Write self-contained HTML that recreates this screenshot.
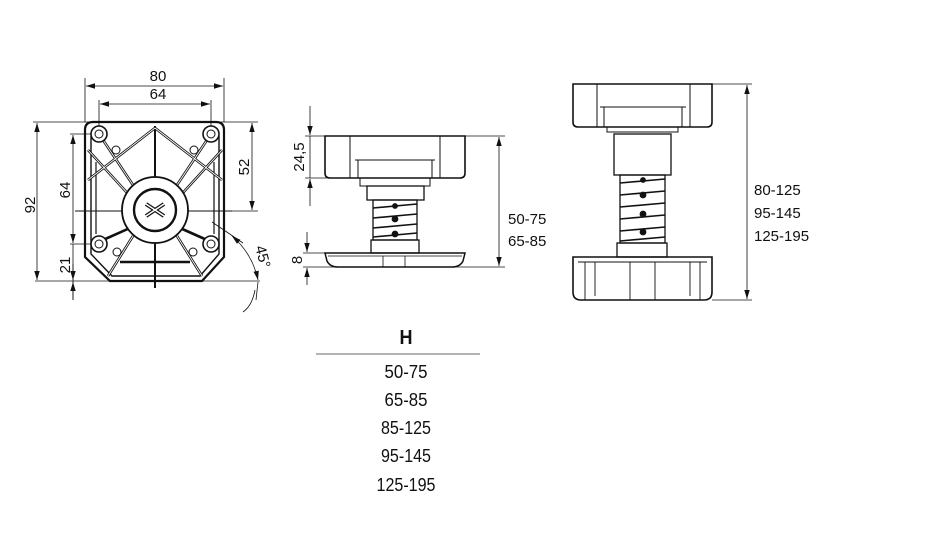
<!DOCTYPE html>
<html><head><meta charset="utf-8"><style>
html,body{margin:0;padding:0;background:#fff;}
svg{display:block;}
text{font-family:"Liberation Sans Narrow","Liberation Sans",sans-serif;fill:#111;}
</style></head><body>
<svg width="950" height="540" viewBox="0 0 950 540" xmlns="http://www.w3.org/2000/svg">
<defs>
<marker id="a" viewBox="0 0 10 10" refX="10" refY="5" markerWidth="9" markerHeight="9" orient="auto-start-reverse" markerUnits="userSpaceOnUse"><path d="M0,2 L10,5 L0,8 z" fill="#111"/></marker>
</defs>
<g stroke="#111" fill="none" stroke-width="0.8">
<line x1="85" y1="78" x2="85" y2="122"/><line x1="224" y1="78" x2="224" y2="122"/>
<line x1="86" y1="86" x2="223" y2="86" marker-start="url(#a)" marker-end="url(#a)"/>
<line x1="99" y1="100" x2="99" y2="128"/><line x1="211" y1="100" x2="211" y2="128"/>
<line x1="100" y1="104" x2="210" y2="104" marker-start="url(#a)" marker-end="url(#a)"/>
<line x1="33" y1="122" x2="258" y2="122"/>
<line x1="35" y1="281" x2="260" y2="281"/>
<line x1="70" y1="134" x2="99" y2="134"/><line x1="70" y1="244" x2="99" y2="244"/>
<line x1="190" y1="211" x2="258" y2="211"/>
<line x1="37" y1="123" x2="37" y2="280" marker-start="url(#a)" marker-end="url(#a)"/>
<line x1="73" y1="135" x2="73" y2="243" marker-start="url(#a)" marker-end="url(#a)"/>
<line x1="73" y1="244" x2="73" y2="300"/>
<line x1="73" y1="264" x2="73" y2="280" marker-end="url(#a)"/>
<line x1="73" y1="300" x2="73" y2="282" marker-end="url(#a)"/>
<line x1="252" y1="123" x2="252" y2="210" marker-start="url(#a)" marker-end="url(#a)"/>
<line x1="212" y1="222" x2="243" y2="243"/>
<path d="M232,236 A 80 80 0 0 1 258 280" marker-start="url(#a)" marker-end="url(#a)"/>
<line x1="258" y1="282" x2="256" y2="300"/>
<path d="M255,290 Q 252 306 243 312" />
<path d="M85,130 Q85,122 93,122 L216,122 Q224,122 224,130 L224,257 L202,281 L110,281 L85,257 Z" stroke-width="2.2"/>
<path d="M91,136 L91,254 L112,276 L200,276 L219,254 L219,136" stroke-width="1.4"/>
<path d="M96,162 L96,234 M214,162 L214,234" stroke-width="1.2"/>
<line x1="155" y1="126" x2="155" y2="288" stroke-width="2"/>
<line x1="75" y1="211" x2="232" y2="211" stroke-width="1"/>
<g stroke-width="2.6">
<line x1="155" y1="128" x2="88" y2="180"/><line x1="155" y1="128" x2="222" y2="180"/>
<line x1="103" y1="140" x2="133" y2="185"/><line x1="207" y1="140" x2="177" y2="185"/>
<line x1="88" y1="150" x2="130" y2="196"/><line x1="222" y1="150" x2="180" y2="196"/>
<line x1="103" y1="240" x2="130" y2="228"/><line x1="207" y1="240" x2="180" y2="228"/>
<line x1="133" y1="236" x2="108" y2="276"/><line x1="177" y1="236" x2="202" y2="276"/>
<line x1="120" y1="262" x2="190" y2="262"/>
</g>
<g stroke="#fff" stroke-width="0.9">
<line x1="155" y1="128" x2="88" y2="180"/><line x1="155" y1="128" x2="222" y2="180"/>
<line x1="103" y1="140" x2="133" y2="185"/><line x1="207" y1="140" x2="177" y2="185"/>
<line x1="88" y1="150" x2="130" y2="196"/><line x1="222" y1="150" x2="180" y2="196"/>
<line x1="133" y1="236" x2="108" y2="276"/><line x1="177" y1="236" x2="202" y2="276"/>
</g>
<circle cx="155" cy="210" r="33" fill="#fff" stroke-width="1.8"/>
<circle cx="155" cy="210" r="21" stroke-width="2.4"/>
<path d="M146,204 L164,216 M164,204 L146,216" stroke-width="4"/>
<path d="M146,204 L164,216 M164,204 L146,216" stroke="#fff" stroke-width="1.5"/>
<g fill="#fff" stroke-width="1.6">
<circle cx="99" cy="134" r="8"/><circle cx="211" cy="134" r="8"/>
<circle cx="99" cy="244" r="8"/><circle cx="211" cy="244" r="8"/>
</g>
<g stroke-width="1">
<circle cx="99" cy="134" r="4"/><circle cx="211" cy="134" r="4"/>
<circle cx="99" cy="244" r="4"/><circle cx="211" cy="244" r="4"/>
<circle cx="116" cy="150" r="4"/><circle cx="194" cy="150" r="4"/>
<circle cx="117" cy="252" r="4"/><circle cx="193" cy="252" r="4"/>
</g>

<line x1="310" y1="106" x2="310" y2="135" marker-end="url(#a)"/>
<line x1="310" y1="206" x2="310" y2="179" marker-end="url(#a)"/>
<line x1="310" y1="136" x2="310" y2="178"/>
<line x1="305" y1="136" x2="505" y2="136"/><line x1="305" y1="178" x2="330" y2="178"/>
<line x1="307" y1="232" x2="307" y2="252" marker-end="url(#a)"/>
<line x1="307" y1="285" x2="307" y2="268" marker-end="url(#a)"/>
<line x1="303" y1="253" x2="330" y2="253"/><line x1="303" y1="267" x2="505" y2="267"/>
<line x1="499" y1="137" x2="499" y2="266" marker-start="url(#a)" marker-end="url(#a)"/>
<path d="M325,136 L465,136 L465,173 Q465,178 460,178 L330,178 Q325,178 325,173 Z" stroke-width="1.6"/>
<path d="M350,136 L350,178 M440,136 L440,178 M355,160 L435,160 M358,160 L358,178 M432,160 L432,178" stroke-width="1"/>
<path d="M360,178 L360,186 L430,186 L430,178" stroke-width="1"/>
<rect x="367" y="186" width="57" height="14" stroke-width="1.3"/>
<rect x="373" y="200" width="44" height="40" stroke-width="1.3"/>
<g stroke-width="1.6"><line x1="373" y1="208" x2="417" y2="204"/><line x1="373" y1="218" x2="417" y2="214"/><line x1="373" y1="228" x2="417" y2="224"/><line x1="373" y1="237" x2="417" y2="233"/></g>
<circle cx="395" cy="206" r="2.5" fill="#111"/><circle cx="395" cy="219" r="3" fill="#111"/><circle cx="395" cy="234" r="3" fill="#111"/>
<rect x="371" y="240" width="48" height="13" stroke-width="1.3"/>
<path d="M325,253 L465,253 L463,261 Q460,267 452,267 L338,267 Q330,267 327,261 Z" stroke-width="1.5"/>
<path d="M328,256 L462,256 M383,256 L383,267 M405,256 L405,267" stroke-width="0.8"/>

<line x1="712" y1="84" x2="752" y2="84"/><line x1="712" y1="300" x2="752" y2="300"/>
<line x1="747" y1="85" x2="747" y2="299" marker-start="url(#a)" marker-end="url(#a)"/>
<path d="M573,84 L712,84 L712,122 Q712,127 707,127 L578,127 Q573,127 573,122 Z" stroke-width="1.6"/>
<path d="M597,84 L597,127 M690,84 L690,127 M600,107 L686,107 M604,107 L604,127 M682,107 L682,127" stroke-width="1"/>
<path d="M607,127 L607,132 L678,132 L678,127" stroke-width="1"/>
<rect x="614" y="134" width="57" height="41" stroke-width="1.3"/>
<rect x="620" y="175" width="45" height="68" stroke-width="1.3"/>
<g stroke-width="1.6"><line x1="620" y1="183" x2="665" y2="179"/><line x1="620" y1="195" x2="665" y2="191"/><line x1="620" y1="207" x2="665" y2="203"/><line x1="620" y1="219" x2="665" y2="215"/><line x1="620" y1="231" x2="665" y2="227"/><line x1="620" y1="241" x2="665" y2="237"/></g>
<circle cx="643" cy="180" r="2.5" fill="#111"/><circle cx="643" cy="195" r="3" fill="#111"/><circle cx="643" cy="214" r="3" fill="#111"/><circle cx="643" cy="232" r="3" fill="#111"/>
<rect x="617" y="243" width="50" height="14" stroke-width="1.3"/>
<path d="M573,257 L712,257 L712,292 Q712,300 704,300 L581,300 Q573,300 573,292 Z" stroke-width="1.6"/>
<path d="M578,262 L707,262 M585,262 L585,300 M700,262 L700,300 M630,262 L630,300 M655,262 L655,300 M595,262 L595,296 M690,262 L690,296" stroke-width="0.9"/>

<line x1="316" y1="354" x2="480" y2="354" stroke="#888" stroke-width="1.3"/>
</g>

<g font-size="15">
<text x="158" y="81" text-anchor="middle">80</text>
<text x="158" y="99" text-anchor="middle">64</text>
<text transform="translate(35,205) rotate(-90)" text-anchor="middle">92</text>
<text transform="translate(70,190) rotate(-90)" text-anchor="middle">64</text>
<text transform="translate(70,265) rotate(-90)" text-anchor="middle">21</text>
<text transform="translate(249,167) rotate(-90)" text-anchor="middle">52</text>
<text transform="translate(258,258) rotate(75)" text-anchor="middle">45°</text>
<text transform="translate(304,157) rotate(-90)" text-anchor="middle">24,5</text>
<text transform="translate(302,260) rotate(-90)" text-anchor="middle">8</text>
<text x="508" y="224">50-75</text>
<text x="508" y="246">65-85</text>
<text x="754" y="195">80-125</text>
<text x="754" y="218">95-145</text>
<text x="754" y="241">125-195</text>
</g>
<g font-size="18" text-anchor="middle">
<text x="406" y="344" font-weight="bold" font-size="20" textLength="13" lengthAdjust="spacingAndGlyphs">H</text>
<text x="406" y="378" textLength="43" lengthAdjust="spacingAndGlyphs">50-75</text>
<text x="406" y="406" textLength="43" lengthAdjust="spacingAndGlyphs">65-85</text>
<text x="406" y="434" textLength="50" lengthAdjust="spacingAndGlyphs">85-125</text>
<text x="406" y="462" textLength="50" lengthAdjust="spacingAndGlyphs">95-145</text>
<text x="406" y="491" textLength="59" lengthAdjust="spacingAndGlyphs">125-195</text>
</g>
</svg>
</body></html>
